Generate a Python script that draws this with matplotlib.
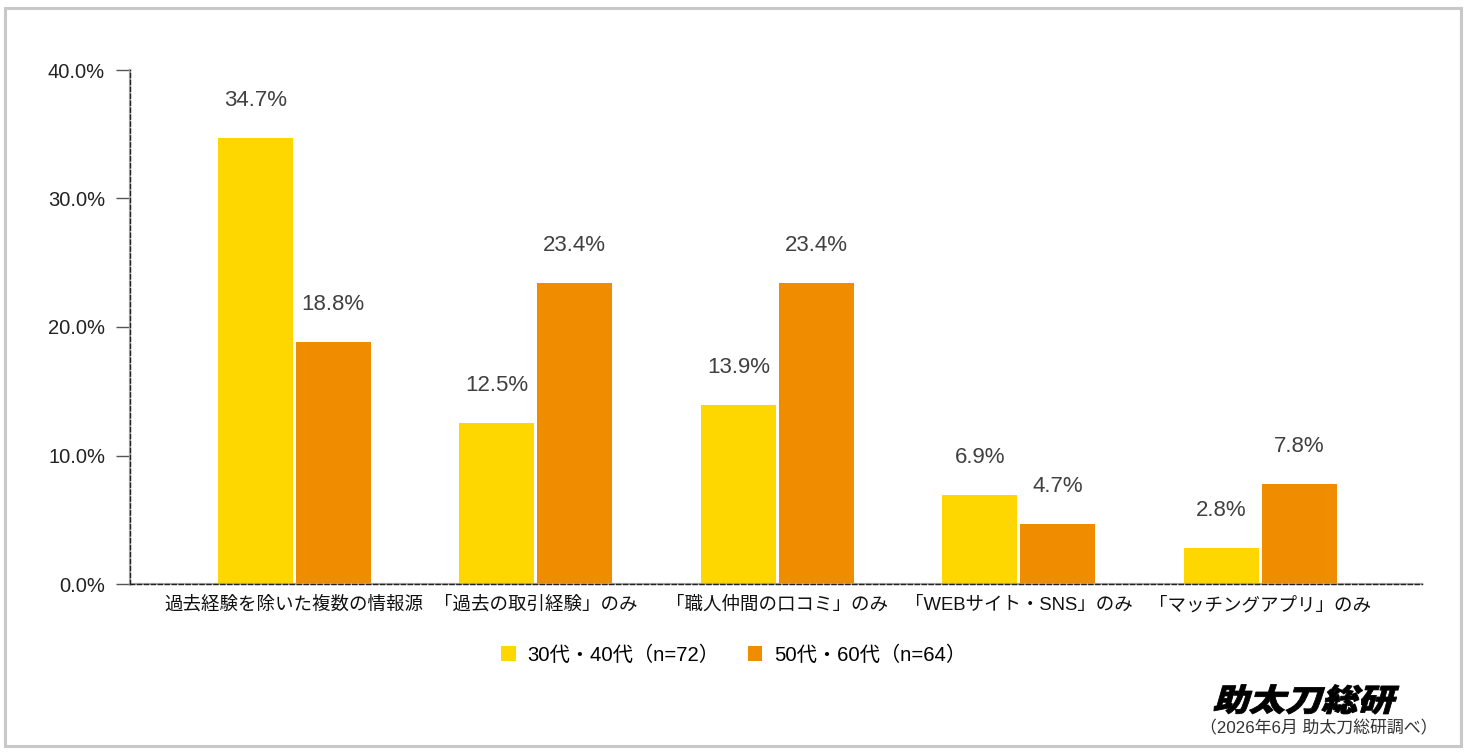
import numpy as np
import matplotlib
matplotlib.use("Agg")
import matplotlib.pyplot as plt
from matplotlib.patches import Rectangle, PathPatch, Patch
from matplotlib.textpath import TextPath
from matplotlib.font_manager import FontProperties
from matplotlib.transforms import Affine2D, IdentityTransform

plt.rcParams["font.family"] = ["Liberation Sans", "Noto Sans CJK JP", "DejaVu Sans"]

categories = [
    "過去経験を除いた複数の情報源",
    "「過去の取引経験」のみ",
    "「職人仲間の口コミ」のみ",
    "「WEBサイト・SNS」のみ",
    "「マッチングアプリ」のみ",
]
series_names = ["30代・40代（n=72）", "50代・60代（n=64）"]
young = [34.7, 12.5, 13.9, 6.9, 2.8]
old = [18.8, 23.4, 23.4, 4.7, 7.8]
yticks = [0, 10, 20, 30, 40]

YELLOW = "#FFD700"
ORANGE = "#F08C00"
LABEL_GRAY = "#404040"

W, H = 1469, 755
fig = plt.figure(figsize=(W / 100, H / 100), dpi=100)
fig.patch.set_facecolor("white")

# outer frame
fig.patches.append(Rectangle((5 / W, 9 / H), 1456 / W, 738 / H, transform=fig.transFigure,
                             fill=False, edgecolor="#c8c8c8", linewidth=2.2))

ax = fig.add_axes([130 / W, 1 - 584 / H, (1422 - 130) / W, (584 - 70) / H])

x = np.arange(len(categories))
bw = 0.31
off = 0.161
b1 = ax.bar(x - off, young, bw, color=YELLOW, label=series_names[0], zorder=3)
b2 = ax.bar(x + off, old, bw, color=ORANGE, label=series_names[1], zorder=3)

for bars, vals in [(b1, young), (b2, old)]:
    for rect, v in zip(bars, vals):
        ax.annotate(f"{v:.1f}%", (rect.get_x() + rect.get_width() / 2, v),
                    xytext=(0, 27), textcoords="offset points",
                    ha="center", va="center", fontsize=16, color=LABEL_GRAY)

ax.set_xlim(-0.68, 4.67)
ax.set_ylim(0, 40)
ax.set_yticks(yticks)
ax.set_yticklabels([f"{t:.1f}%" for t in yticks], fontsize=14.5, color="#222222")
ax.set_xticks(x)
ax.set_xticklabels(categories, fontsize=13.3, color="#111111")
ax.tick_params(axis="x", length=0, pad=9)
ax.tick_params(axis="y", length=10, width=1, color="#555555", pad=8)

for s in ["top", "right"]:
    ax.spines[s].set_visible(False)
for s in ["left", "bottom"]:
    ax.spines[s].set_color("#222222")
    ax.spines[s].set_linestyle((0, (3, 2)))
    ax.spines[s].set_linewidth(1.0)
    ax.spines[s].set_zorder(5)
ax.axhline(0, color="#b0b0b0", linewidth=1.6, zorder=4, clip_on=False)
ax.axvline(-0.68, color="#b0b0b0", linewidth=1.6, zorder=4, clip_on=False)

handles = [Patch(facecolor=YELLOW, label=series_names[0]),
           Patch(facecolor=ORANGE, label=series_names[1])]
fig.legend(handles=handles, loc="center", bbox_to_anchor=(734 / W, 1 - 655 / H),
           ncol=2, frameon=False, fontsize=14.6, handlelength=0.7, handleheight=0.7,
           handletextpad=0.6, columnspacing=1.4)

# logo, drawn as a skewed text path
fp = FontProperties(family="Noto Sans CJK JP", weight="heavy")
tp = TextPath((0, 0), "助太刀総研", size=31, prop=fp)
ext = tp.get_extents()
tr = (Affine2D().translate(-ext.x0, 0).scale(1.17, 1.0).skew_deg(16, 0)
      .translate(1213, H - 711))
logo = PathPatch(tr.transform_path(tp), facecolor="black", edgecolor="black",
                 linewidth=0.6, transform=IdentityTransform())
fig.patches.append(logo)

fig.text(1438 / W, 1 - 728 / H, "（2026年6月 助太刀総研調べ）", ha="right", va="center",
         fontsize=12.2, color="#333333")

fig.savefig("out.png", dpi=100, facecolor="white")
